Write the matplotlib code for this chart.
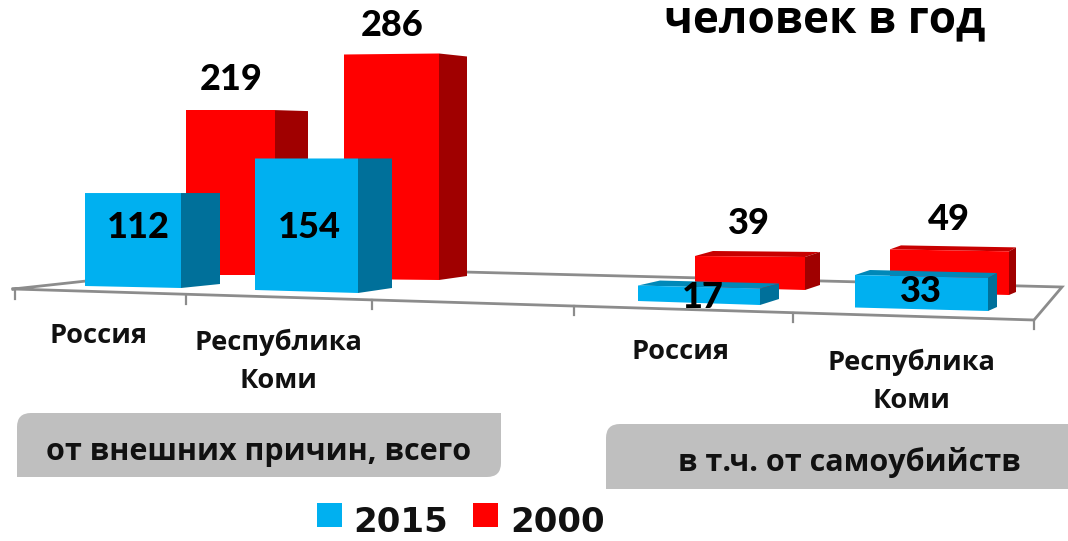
import matplotlib
matplotlib.use("Agg")
import matplotlib.pyplot as plt
from matplotlib.patches import Polygon, Rectangle, FancyBboxPatch

# values
years = ["2015", "2000"]
title_text = "человек в год"
left_2015 = [112, 154]
left_2000 = [219, 286]
right_2015 = [17, 33]
right_2000 = [39, 49]
regions = ["Россия", "Республика\nКоми"]
left_box_text = "от внешних причин, всего"
right_box_text = "в т.ч. от самоубийств"

BLUE = ("#00B0F0", "#00709A", "#0088B8")
RED = ("#FF0000", "#A00000", "#C80000")
FONT = "Open Sans"
NUM_FONT = "Lato"

plt.rcParams["font.family"] = [FONT, "DejaVu Sans"]

fig = plt.figure(figsize=(10.68, 5.41), dpi=100)
ax = fig.add_axes([0, 0, 1, 1])
ax.set_xlim(0, 1068)
ax.set_ylim(541, 0)
ax.axis("off")


def bar3d(val, cols, x0, x1, base, scale, tilt_b, tilt_t, side, rise_b, rise_t, lean=0):
    # fake perspective bar, height comes from the value
    top = base - val * scale
    if rise_t > 0 and lean > 0:
        ax.add_patch(Polygon([(x0, top), (x1, top + tilt_t), (x1 + side, top + tilt_t - rise_t),
                              (x0 + lean, top - rise_t)], fc=cols[2], ec="none", zorder=3))
    ax.add_patch(Polygon([(x1, base + tilt_b), (x1 + side, base + tilt_b - rise_b),
                          (x1 + side, top + tilt_t - rise_t), (x1, top + tilt_t)],
                         fc=cols[1], ec="none", zorder=3))
    ax.add_patch(Polygon([(x0, base), (x1, base + tilt_b), (x1, top + tilt_t), (x0, top)],
                         fc=cols[0], ec="none", zorder=3))


def grey_box(x0, y0, x1, y1, round_br):
    ax.add_patch(FancyBboxPatch((x0 + 14, y0 + 14), x1 - x0 - 28, y1 - y0 - 28,
                                boxstyle="round,pad=14,rounding_size=14", fc="#BFBFBF", ec="none"))
    ax.add_patch(Rectangle((x1 - 20, y0), 20, 20, fc="#BFBFBF", ec="none"))
    ax.add_patch(Rectangle((x0, y1 - 20), 20, 20, fc="#BFBFBF", ec="none"))
    if not round_br:
        ax.add_patch(Rectangle((x1 - 20, y1 - 20), 20, 20, fc="#BFBFBF", ec="none"))


# floor of the chart
floor_x = [13, 1034, 1062, 224, 13]
floor_y = [289, 320, 287, 266, 289]
ax.plot(floor_x, floor_y, color="#8C8C8C", lw=2, zorder=1, solid_joinstyle="miter")
for tx, ty in zip([15, 186, 372, 574, 793, 1034], [290, 295, 300, 306, 313, 320]):
    ax.plot([tx, tx], [ty, ty + 9], color="#8C8C8C", lw=1.6, zorder=1)

# back row first, then front row
bar3d(left_2000[0], RED, 186, 275, 275, 0.753, 0, 0, 33, 0, -1)
bar3d(left_2000[1], RED, 344, 439, 279, 0.785, 1, -1, 28, 4, -3)
bar3d(left_2015[0], BLUE, 85, 181, 286, 0.83, 2, 0, 39, 4, 0)
bar3d(left_2015[1], BLUE, 255, 358, 290, 0.854, 3, 0, 34, 5, 0)

bar3d(right_2000[0], RED, 695, 805, 287, 0.795, 3, 1, 15, 5, 5, 18)
bar3d(right_2000[1], RED, 890, 1009, 292, 0.87, 3, 2, 7, 3, 4, 11)
bar3d(right_2015[0], BLUE, 638, 760, 301, 0.91, 4, 3, 19, 6, 5, 22)
bar3d(right_2015[1], BLUE, 855, 988, 307.5, 0.985, 3.5, 3, 9, 4, 5, 15)

# numbers over the bars
num_xy = [(138, 227), (309, 228), (231, 80), (392, 26), (703, 297), (921, 292), (749, 223), (949, 220)]
for v, (nx, ny) in zip(left_2015 + left_2000 + right_2015 + right_2000, num_xy):
    ax.text(nx, ny, str(v), family=NUM_FONT, fontsize=26, fontweight="black",
            ha="center", va="center", color="black", zorder=5)

# category labels
for txt, lx, ly in zip(regions * 2, [99, 278, 681, 911], [336, 361, 352, 381]):
    ax.text(lx, ly, txt, fontsize=19.6, fontweight="bold", ha="center", va="center",
            linespacing=1.6, color="#111111", zorder=5)

grey_box(17, 413, 501, 477, True)
grey_box(606, 424, 1090, 489, False)
ax.text(259, 452, left_box_text, fontsize=22, fontweight="bold", ha="center", va="center", color="#111111")
ax.text(849, 463, right_box_text, fontsize=22, fontweight="bold", ha="center", va="center", color="#111111")

ax.text(825, 21, title_text, fontsize=31.8, fontweight="bold", ha="center", va="center", color="black")

# legend
for sx, col, yr, tx in zip([317, 473], [BLUE[0], RED[0]], years, [353, 510]):
    ax.add_patch(Rectangle((sx, 503), 25, 24, fc=col, ec="none"))
    ax.text(tx, 522, yr, family="DejaVu Sans", fontsize=24.5, fontweight="bold", ha="left", va="center", color="#111111")

fig.savefig("out.png", dpi=100)
